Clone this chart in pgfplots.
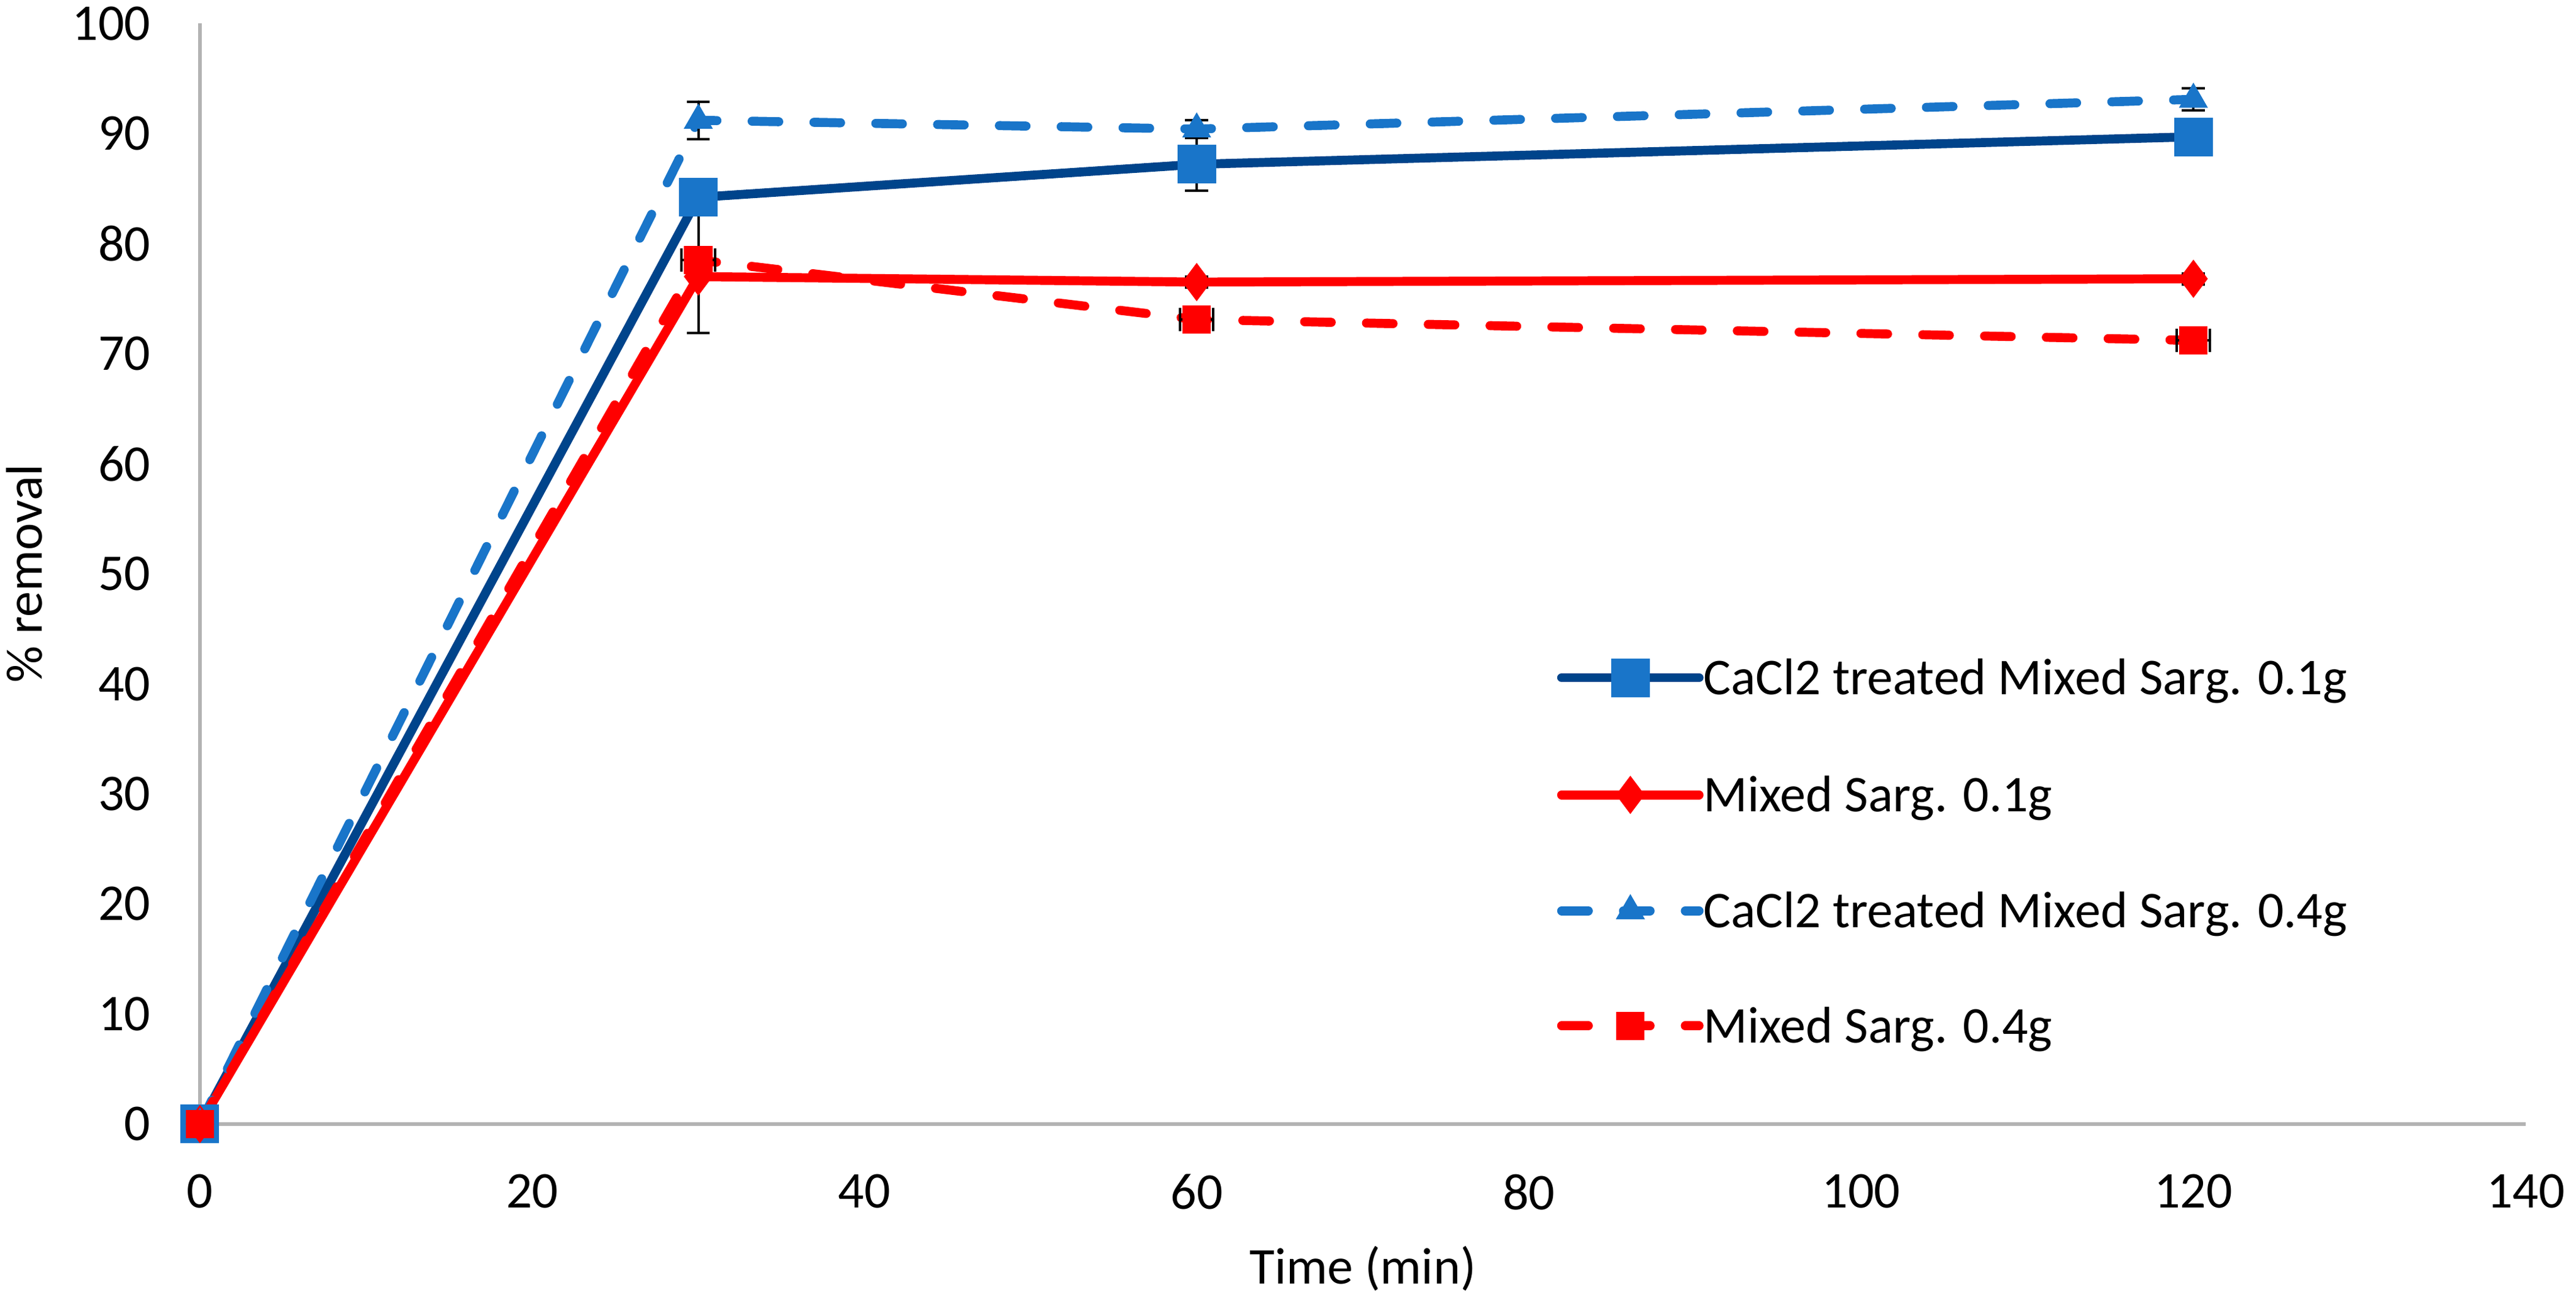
\documentclass[border=0pt]{standalone}
\usepackage{fontspec}
\setmainfont{Carlito}
\usepackage{pgfplots}
\pgfplotsset{compat=1.18}

\definecolor{darkblue}{RGB}{0,68,139}
\definecolor{midblue}{RGB}{25,117,201}
\definecolor{axisgray}{RGB}{179,179,179}

\begin{document}
\begin{tikzpicture}
\begin{axis}[
    at={(0,0)}, anchor=south west,
    scale only axis, width=541.7pt, height=256.4pt,
    xmin=0, xmax=140, ymin=0, ymax=100,
    xtick={0,20,...,140}, ytick={0,10,...,100},
    axis lines=left,
    axis line style={-, draw=axisgray, line width=0.85pt},
    major tick length=0pt,
    clip=false,
    font=\fontsize{12}{14}\selectfont,
    /pgf/number format/assume math mode=true,
    xticklabel style={anchor=north, inner sep=0pt, yshift=-11.5pt},
    yticklabel style={anchor=east, inner sep=0pt, xshift=-11.3pt},
    xlabel={Time (min)},
    ylabel={\% removal},
    every axis x label/.style={at={(axis description cs:0.5,0)}, anchor=center, yshift=-33.6pt},
    every axis y label/.style={at={(axis description cs:0,0.5)}, anchor=center, xshift=-40.9pt, rotate=90},
    legend style={at={(axis cs:81.7,24.8)}, anchor=west, draw=none, fill=none,
        inner sep=0pt, outer sep=0pt, row sep=18.6pt,
        nodes={inner sep=0pt, text height=8pt, text depth=0.2pt},
        /tikz/every even column/.append style={column sep=-0.5pt}},
    legend cell align=left,
    legend image code/.code={\draw[mark repeat=2,mark phase=2] plot coordinates {(0pt,0pt)(16pt,0pt)(32pt,0pt)};},
    error bars/error bar style={black, line width=0.57pt, solid},
    error bars/error mark options={rotate=90, black, mark size=2.7pt, line width=0.57pt, solid},
]

% CaCl2 treated, 0.1 g
\addplot[darkblue, line width=2.1pt, line cap=round, mark=square*, mark size=4.4pt,
    mark options={solid, fill=midblue, draw=midblue, line width=0.2pt},
    error bars/.cd, y dir=both, y explicit]
coordinates {
    (0,0) +- (0,0)
    (30,84.2) +- (0,0)
    (60,87.2) +- (0,2.4)
    (120,89.7) +- (0,0)
};
\addlegendentry{CaCl2 treated Mixed Sarg. 0.1g}

% untreated, 0.1 g
\addplot[red, line width=2.1pt, line cap=round, mark=diamond*, mark size=4.3pt,
    mark options={solid, fill=red, draw=red, line width=0.2pt},
    error bars/.cd, y dir=both, y explicit]
coordinates {
    (0,0) +- (0,0)
    (30,77.0) += (0,5.8) -= (0,5.1)
    (60,76.5) +- (0,0.5)
    (120,76.8) +- (0,0.5)
};
\addlegendentry{Mixed Sarg. 0.1g}

% CaCl2 treated, 0.4 g
\addplot[midblue, line width=2.1pt, line cap=round, dash pattern=on 6.2pt off 8.2pt,
    mark=triangle*, mark size=3.7pt,
    mark options={solid, fill=midblue, draw=midblue, line width=0.2pt},
    error bars/.cd, y dir=both, y explicit]
coordinates {
    (0,0) +- (0,0)
    (30,91.2) +- (0,1.7)
    (60,90.4) +- (0,0.8)
    (120,93.1) +- (0,1.0)
};
\addlegendentry{CaCl2 treated Mixed Sarg. 0.4g}

% untreated, 0.4 g
\addplot[red, line width=2.1pt, line cap=round, dash pattern=on 6.2pt off 8.2pt,
    mark=square*, mark size=3.2pt,
    mark options={solid, fill=red, draw=red, line width=0.2pt},
    error bars/.cd, x dir=both, x explicit]
coordinates {
    (0,0) +- (0,0)
    (30,78.5) +- (1.0,0)
    (60,73.1) +- (1.0,0)
    (120,71.2) +- (1.0,0)
};
\addlegendentry{Mixed Sarg. 0.4g}

\end{axis}
\pgfresetboundingbox
\path[use as bounding box] (-46.57pt,-42.14pt) rectangle (553.43pt,261.86pt);
\end{tikzpicture}
\end{document}
